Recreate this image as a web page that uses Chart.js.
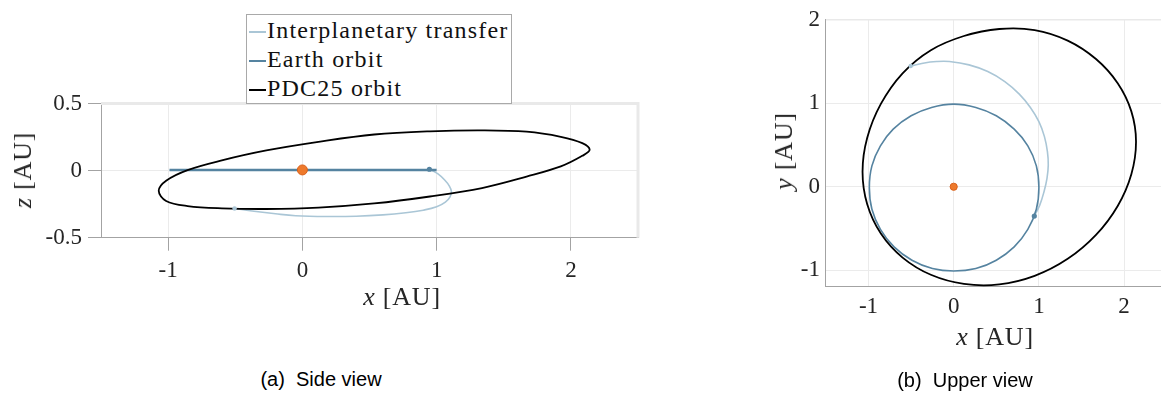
<!DOCTYPE html>
<html>
<head>
<meta charset="utf-8">
<script src="https://cdn.jsdelivr.net/npm/chart.js@4.4.1/dist/chart.umd.min.js"></script>
<style>
  html, body { margin: 0; padding: 0; background: #fff; overflow: hidden; }
  #page { position: relative; width: 1161px; height: 396px; overflow: hidden; background: #fff; }
  canvas { position: absolute; }
  .axt { position: absolute; font-family: 'Liberation Serif', 'Times New Roman', serif; font-size: 26px;
         letter-spacing: 0.8px; color: #262626; white-space: nowrap; line-height: 1; transform: translate(-50%, -50%); }
  .axt.rot { transform: translate(-50%, -50%) rotate(-90deg); }
  .cap { position: absolute; font-family: 'Liberation Sans', Arial, sans-serif; font-size: 20px;
         color: #000; white-space: nowrap; line-height: 1; transform: translate(-50%, -50%); }
  #legend { position: absolute; left: 246px; top: 14px; width: 266px; height: 90px; box-sizing: border-box;
            border: 1px solid #a9a9a9; background: #fff; padding-top: 1px;
            font-family: 'Liberation Serif', 'Times New Roman', serif; font-size: 24px; letter-spacing: 1.2px; color: #111; }
  #legend .row { height: 29px; line-height: 29px; white-space: nowrap; position: relative; padding-left: 20px; }
  #legend .sw { position: absolute; left: 2px; top: 15px; width: 17px; height: 2px; }
</style>
</head>
<body>
<div id="page">
  <canvas id="side" width="660" height="330" style="left:0;top:0"></canvas>
  <canvas id="upper" width="440" height="330" style="left:740px;top:0"></canvas>

  <div id="legend">
    <div class="row"><span class="sw" style="background:#aac6d6"></span>Interplanetary transfer</div>
    <div class="row"><span class="sw" style="background:#5583a0"></span>Earth orbit</div>
    <div class="row"><span class="sw" style="background:#000"></span>PDC25 orbit</div>
  </div>

  <div class="axt rot" style="left:23px;top:170px"><i>z</i> [AU]</div>
  <div class="axt" style="left:402px;top:297px"><i>x</i> [AU]</div>
  <div class="axt rot" style="left:784px;top:151px"><i>y</i> [AU]</div>
  <div class="axt" style="left:995px;top:337px"><i>x</i> [AU]</div>

  <div class="cap" style="left:321px;top:379px">(a)&nbsp; Side view</div>
  <div class="cap" style="left:965px;top:380px">(b)&nbsp; Upper view</div>
</div>

<script>
// Heliocentric positions in AU (ecliptic frame)

// PDC25 asteroid orbit (closed: last point repeats the first)
const pdcX = [0.535, 0.120, -0.268, -0.600, -0.855, -1.015, -1.070, -1.015, -0.855, -0.600, -0.268, 0.120,
              0.535, 0.950, 1.338, 1.670, 1.925, 2.085, 2.140, 2.085, 1.925, 1.670, 1.338, 0.950, 0.535];
const pdcY = [1.890, 1.806, 1.636, 1.359, 0.992, 0.586, 0.180, -0.210, -0.561, -0.849, -1.055, -1.164,
              -1.170, -1.068, -0.864, -0.577, -0.230, 0.150, 0.540, 0.903, 1.240, 1.530, 1.751, 1.877, 1.890];
const pdcZ = [-0.245, -0.276, -0.286, -0.281, -0.264, -0.226, -0.150, -0.075, 0.004, 0.076, 0.150, 0.214,
              0.269, 0.293, 0.300, 0.290, 0.252, 0.205, 0.155, 0.110, 0.031, -0.045, -0.130, -0.193, -0.245];

// Earth orbit (closed)
const earthX = [1.00, 0.97, 0.87, 0.71, 0.50, 0.26, 0.00, -0.26, -0.50, -0.71, -0.86, -0.96, -0.99,
                -0.96, -0.86, -0.70, -0.49, -0.25, 0.00, 0.26, 0.50, 0.71, 0.87, 0.97, 1.00];
const earthY = [-0.01, 0.25, 0.49, 0.69, 0.85, 0.95, 0.99, 0.95, 0.85, 0.69, 0.49, 0.25, -0.01,
                -0.27, -0.51, -0.72, -0.88, -0.98, -1.01, -0.98, -0.88, -0.72, -0.51, -0.27, -0.01];
const earthZ = [0.005, 0.005, 0.005, 0.005, 0.005, 0.005, 0.005, 0.005, 0.005, 0.005, 0.005, 0.005, 0.005,
                0.005, 0.005, 0.005, 0.005, 0.005, 0.005, 0.005, 0.005, 0.005, 0.005, 0.005, 0.005];

// Interplanetary transfer, Earth departure to PDC25 arrival
const transferX = [0.946, 1.01, 1.06, 1.095, 1.11, 1.10, 1.065, 1.00, 0.90, 0.77, 0.60, 0.40, 0.18,
                   -0.05, -0.20, -0.36, -0.505];
const transferY = [-0.351, -0.22, -0.06, 0.10, 0.26, 0.42, 0.60, 0.78, 0.95, 1.11, 1.26, 1.38, 1.46,
                   1.50, 1.50, 1.48, 1.446];
const transferZ = [0.01, -0.025, -0.07, -0.115, -0.155, -0.195, -0.235, -0.27, -0.295, -0.314, -0.33, -0.34, -0.342,
                   -0.336, -0.322, -0.303, -0.282];

// Marked bodies [x, y, z]
const sunPos = [0, 0, 0.005];
const departurePos = [0.946, -0.351, 0.01];
const arrivalPos = [-0.505, 1.446, -0.282];

// Axis ticks
const xTicks = [-1, 0, 1, 2];
const zTicks = [-0.5, 0, 0.5];
const yTicks = [-1, 0, 1, 2];

const COL_TRANSFER = '#aac6d6';
const COL_EARTH = '#5583a0';
const COL_PDC = '#000000';
const COL_SUN = '#ee7a2c';
const HIDDEN = 'rgba(0,0,0,0)';

function pts(xs, ys) { return xs.map((x, i) => ({ x: x, y: ys[i] })); }

// A closed orbit gets one neighbour added on each end so the spline stays smooth
// through the seam; those two helper segments are not stroked.
function closedLine(xs, ys, extra) {
  const p = pts(xs, ys);
  const n = p.length;
  const data = [p[n - 2]].concat(p, [p[1]]);
  const last = data.length - 1;
  return Object.assign({
    data: data, showLine: true, pointRadius: 0, tension: 0.36,
    segment: { borderColor: (c) => (c.p0DataIndex === 0 || c.p1DataIndex === last) ? HIDDEN : undefined }
  }, extra);
}

function buildDatasets(second, sunR, earthW) {
  // second: 2 -> z component (side view), 1 -> y component (upper view)
  const pick = (p) => ({ x: p[0], y: p[second] });
  const pdcS = second === 2 ? pdcZ : pdcY;
  const earthS = second === 2 ? earthZ : earthY;
  const trS = second === 2 ? transferZ : transferY;
  return [
    { label: 'Sun', data: [pick(sunPos)], showLine: false, pointRadius: sunR, pointBackgroundColor: COL_SUN,
      pointBorderColor: '#d9611b', pointBorderWidth: 1, order: 0 },
    { label: 'Departure', data: [pick(departurePos)], showLine: false, pointRadius: 2.6,
      pointBackgroundColor: COL_EARTH, pointBorderWidth: 0, order: 1 },
    { label: 'Arrival', data: [pick(arrivalPos)], showLine: false, pointRadius: 2.2,
      pointBackgroundColor: COL_TRANSFER, pointBorderWidth: 0, order: 1 },
    closedLine(pdcX, pdcS, { label: 'PDC25 orbit', borderColor: COL_PDC, borderWidth: 1.8, order: 2 }),
    closedLine(earthX, earthS, { label: 'Earth orbit', borderColor: COL_EARTH, borderWidth: earthW, order: 3 }),
    { label: 'Interplanetary transfer', data: pts(transferX, trS), showLine: true, pointRadius: 0,
      borderColor: COL_TRANSFER, borderWidth: 1.6, tension: 0.4, order: 4 }
  ];
}

// light frame on the top and right edges of the plot box
const framePlugin = {
  id: 'frame',
  beforeDatasetsDraw(chart, args, opts) {
    const { ctx, chartArea: a } = chart;
    ctx.save();
    ctx.strokeStyle = '#e9e9e9';
    ctx.lineWidth = opts.width || 2;
    ctx.beginPath();
    ctx.moveTo(a.left, a.top);
    ctx.lineTo(a.right, a.top);
    ctx.lineTo(a.right, a.bottom);
    ctx.stroke();
    ctx.restore();
  }
};

const tickFont = { family: "'Liberation Serif', 'Times New Roman', serif", size: 23 };

function axisOpts(min, max, ticks, fit, tickLen, pad) {
  return {
    type: 'linear', min: min, max: max,
    afterBuildTicks: (s) => { s.ticks = ticks.map(v => ({ value: v })); },
    afterFit: fit,
    grid: { color: '#ebebeb', lineWidth: 1, drawTicks: tickLen > 0, tickLength: tickLen, tickColor: '#a3a3a3' },
    border: { display: true, color: '#a3a3a3', width: 1 },
    ticks: { font: tickFont, color: '#262626', padding: pad, maxRotation: 0, autoSkip: false,
             callback: (v) => String(v) }
  };
}

function makeChart(id, datasets, area, xr, yr, yt, tickLen, pad, frameW) {
  const cv = document.getElementById(id);
  return new Chart(cv, {
    type: 'scatter',
    data: { datasets: datasets },
    options: {
      responsive: false, animation: false, devicePixelRatio: 1,
      layout: { padding: { left: 0, top: area.top, right: cv.width - area.right, bottom: cv.height - area.bottom - 40 } },
      plugins: { legend: { display: false }, tooltip: { enabled: false }, frame: { width: frameW } },
      scales: {
        x: axisOpts(xr[0], xr[1], xTicks, (s) => { s.height = 40; }, tickLen, pad),
        y: axisOpts(yr[0], yr[1], yt, (s) => { s.width = area.left; }, tickLen, pad)
      }
    },
    plugins: [framePlugin]
  });
}

// (a) side view: x-z plane
makeChart('side', buildDatasets(2, 5, 2.6), { left: 101, right: 638, top: 103.5, bottom: 237.7 },
          [-1.5, 2.5], [-0.5, 0.5], zTicks, 13, 6, 3);

// (b) upper view: x-y plane
makeChart('upper', buildDatasets(1, 3.6, 1.6), { left: 85.9, right: 426.7, top: 13.3, bottom: 286.9 },
          [-1.5, 2.5], [-1.2, 2], yTicks, 0, 6, 1.5);
</script>
</body>
</html>
